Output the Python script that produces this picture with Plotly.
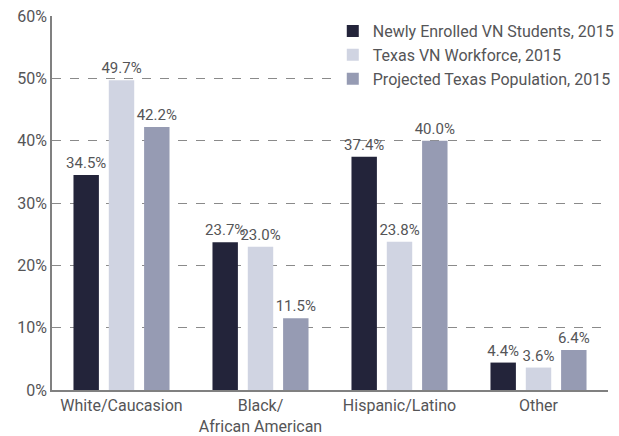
import plotly.graph_objects as go

categories = ["White/Caucasion", "Black/<br>African American", "Hispanic/Latino", "Other"]
series_names = ["Newly Enrolled VN Students, 2015", "Texas VN Workforce, 2015", "Projected Texas Population, 2015"]
students = [34.5, 23.7, 37.4, 4.4]
workforce = [49.7, 23.0, 23.8, 3.6]
population = [42.2, 11.5, 40.0, 6.4]
y_ticks = [0, 10, 20, 30, 40, 50, 60]
y_tick_labels = ["0%", "10%", "20%", "30%", "40%", "50%", "60%"]

colors = ["#23243a", "#d0d4e2", "#969bb3"]
FONT = "Roboto, Liberation Sans, sans-serif"
TXT = "#555557"

fig = go.Figure()
for name, vals, col in zip(series_names, [students, workforce, population], colors):
    fig.add_trace(go.Bar(
        x=categories, y=vals, name=name, marker_color=col, marker_line_width=0,
        text=[f"{v:.1f}%" for v in vals], textposition="outside",
        constraintext="none",
        textfont=dict(family=FONT, size=15, color=TXT), cliponaxis=False,
    ))

fig.update_layout(
    width=619, height=436,
    margin=dict(l=52, r=0, t=16, b=46),
    paper_bgcolor="white", plot_bgcolor="white",
    barmode="group", bargap=0.238, bargroupgap=0.28,
    font=dict(family=FONT, color=TXT, size=16),
    showlegend=True,
    legend=dict(x=0.505, y=1.005, xanchor="left", yanchor="top",
                bgcolor="white", font=dict(family=FONT, size=16, color=TXT),
                tracegroupgap=4, itemwidth=30),
    uniformtext=dict(mode=False),
)
fig.update_xaxes(showline=True, linecolor="#808080", linewidth=1.5, ticks="",
                 tickangle=0, automargin=False,
                 tickfont=dict(family=FONT, size=16, color=TXT), range=[-0.5, 3.5])
fig.update_yaxes(range=[0, 60], tickvals=y_ticks, ticktext=y_tick_labels,
                 showline=True, linecolor="#808080", linewidth=1.5, automargin=False,
                 showgrid=True, gridcolor="#8a8a8a", griddash="dash", gridwidth=1,
                 tickfont=dict(family=FONT, size=16, color=TXT), zeroline=False)

fig.write_html("out.html", config={"displayModeBar": False},
               post_script="document.body.style.margin='0px';")
